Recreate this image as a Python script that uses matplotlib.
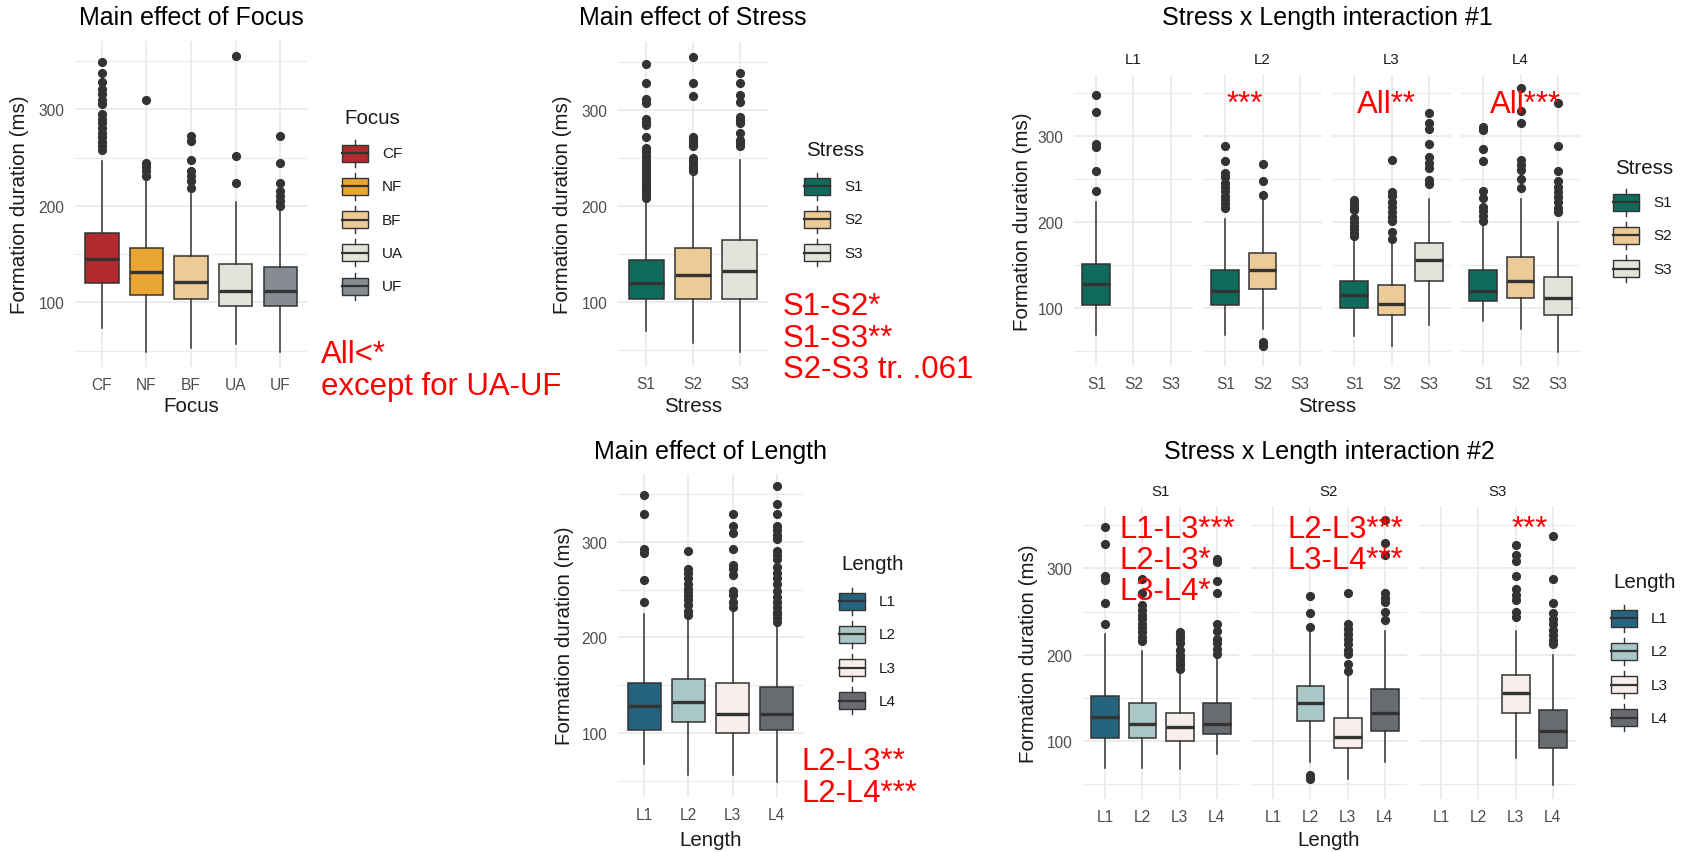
import matplotlib
matplotlib.use("Agg")
import matplotlib.pyplot as plt
from matplotlib.patches import Rectangle

plt.rcParams['font.family'] = ['Liberation Sans', 'DejaVu Sans']

W, H, DPI = 1686, 853, 100
YLIM = (33, 371)
EDGE = '#333333'
GRID = '#EBEBEB'

# ---------------- data ----------------
focus_levels = ['CF', 'NF', 'BF', 'UA', 'UF']
focus_colors = ['#B22A2E', '#E9A632', '#ECCB98', '#E3E3DB', '#878B92']
focus_whislo = [73, 49, 53, 57, 49]
focus_q1 = [120, 108, 104, 96, 96]
focus_med = [145, 132, 121, 112, 112]
focus_q3 = [172, 156, 148, 140, 137]
focus_whishi = [247, 226, 212, 204, 196]
focus_fliers = [
    [258, 262, 266, 271, 276, 281, 286, 290, 295, 306, 310, 316, 321, 328, 338, 349],
    [231, 236, 240, 245, 310],
    [219, 226, 231, 236, 248, 267, 272],
    [224, 252, 355],
    [200, 205, 210, 215, 224, 244, 272],
]

stress_levels = ['S1', 'S2', 'S3']
stress_colors = ['#0F6A5B', '#ECCB98', '#E3E3DB']
stress_whislo = [69, 57, 48]
stress_q1 = [103, 103, 103]
stress_med = [120, 128, 132]
stress_q3 = [144, 156, 164]
stress_whishi = [206, 230, 248]
stress_fliers = [
    [208, 212, 215, 218, 221, 224, 227, 231, 234, 238, 241, 245, 248, 252, 256,
     260, 272, 284, 288, 291, 307, 312, 328, 348],
    [236, 240, 243, 247, 250, 262, 266, 269, 272, 315, 328, 355],
    [262, 266, 269, 276, 286, 290, 293, 308, 316, 328, 339],
]

length_levels = ['L1', 'L2', 'L3', 'L4']
length_colors = ['#26637E', '#AAC7C7', '#F7EDEB', '#686B70']
length_whislo = [68, 56, 56, 49]
length_q1 = [103, 111, 100, 103]
length_med = [128, 132, 120, 120]
length_q3 = [152, 156, 152, 148]
length_whishi = [224, 218, 228, 212]
length_fliers = [
    [237, 260, 288, 293, 329, 349],
    [223, 228, 234, 239, 243, 247, 251, 256, 262, 267, 272, 290],
    [232, 237, 244, 249, 265, 272, 276, 293, 309, 317, 329],
    [216, 220, 224, 227, 232, 237, 242, 249, 256, 262, 267, 274, 282, 286, 290,
     303, 307, 312, 317, 329, 340, 358],
]

# Stress x Length cells (same data in both interaction plots)
cell_stress = ['S1', 'S1', 'S2', 'S1', 'S2', 'S3', 'S1', 'S2', 'S3']
cell_length = ['L1', 'L2', 'L2', 'L3', 'L3', 'L3', 'L4', 'L4', 'L4']
cell_whislo = [69, 69, 76, 68, 56, 81, 85, 76, 49]
cell_q1 = [104, 104, 123, 100, 92, 132, 108, 112, 92]
cell_med = [128, 120, 144, 116, 105, 156, 120, 132, 112]
cell_q3 = [152, 144, 164, 132, 127, 176, 144, 160, 136]
cell_whishi = [224, 204, 226, 180, 176, 227, 197, 227, 200]
cell_fliers = [
    [236, 260, 287, 291, 328, 348],
    [216, 221, 226, 231, 236, 241, 246, 252, 257, 271, 288],
    [56, 61, 232, 248, 268],
    [184, 188, 192, 196, 200, 205, 214, 218, 222, 226],
    [181, 189, 201, 206, 212, 218, 224, 230, 235, 272],
    [244, 249, 263, 269, 276, 291, 308, 315, 327],
    [201, 207, 213, 218, 228, 236, 271, 285, 307, 311],
    [240, 250, 261, 266, 272, 315, 329, 356],
    [212, 217, 223, 229, 235, 241, 248, 260, 288, 338],
]

# ---------------- figure ----------------
fig = plt.figure(figsize=(W / DPI, H / DPI), dpi=DPI)
fig.patch.set_facecolor('white')

# overlay in pixel coordinates for titles, legends and notes
ov = fig.add_axes([0, 0, 1, 1], zorder=10)
ov.set_xlim(0, W)
ov.set_ylim(H, 0)
ov.axis('off')
ov.patch.set_visible(False)


def px_axes(left, top, right, bottom):
    return fig.add_axes([left / W, 1 - bottom / H, (right - left) / W, (bottom - top) / H])


def box_panel(ax, levels, present, whislo, q1, med, q3, whishi, fliers, colors, show_y=True):
    stats = [dict(whislo=a, q1=b, med=c, q3=d, whishi=e, fliers=f)
             for a, b, c, d, e, f in zip(whislo, q1, med, q3, whishi, fliers)]
    pos = [levels.index(p) + 1 for p in present]
    bp = ax.bxp(stats, positions=pos, widths=0.75, patch_artist=True, showcaps=False,
                boxprops=dict(edgecolor=EDGE, linewidth=1.1),
                medianprops=dict(color=EDGE, linewidth=2.4, solid_capstyle='butt'),
                whiskerprops=dict(color=EDGE, linewidth=1.1),
                flierprops=dict(marker='o', markersize=5.6, markerfacecolor=EDGE,
                                markeredgecolor=EDGE))
    for patch, c in zip(bp['boxes'], colors):
        patch.set_facecolor(c)
    ax.set_xlim(0.4, len(levels) + 0.6)
    ax.set_ylim(*YLIM)
    ax.set_xticks(range(1, len(levels) + 1), labels=levels)
    ax.set_yticks([100, 200, 300])
    ax.set_yticks([50, 150, 250, 350], minor=True)
    ax.grid(which='major', color=GRID, lw=1.3)
    ax.grid(which='minor', axis='y', color=GRID, lw=0.8)
    ax.set_axisbelow(True)
    for s in ax.spines.values():
        s.set_visible(False)
    ax.tick_params(which='both', length=0, labelsize=11.2, labelcolor='#4D4D4D', pad=7)
    ax.tick_params(axis='y', labelleft=show_y, pad=7.5)


def subset(key_list, key):
    return [k for k, v in enumerate(key_list) if v == key]


def pick(values, idx):
    return [values[k] for k in idx]


def legend(title, x, y_title, y_first, levels, colors):
    ov.text(x + 2, y_title, title, fontsize=14.8, ha='left', va='center', color='#1A1A1A')
    for i, (lev, col) in enumerate(zip(levels, colors)):
        yc = y_first + i * 33.3
        ov.add_patch(Rectangle((x, yc - 8.5), 26, 17, facecolor=col, edgecolor=EDGE, lw=1.0))
        ov.plot([x, x + 26], [yc, yc], color=EDGE, lw=1.6)
        ov.plot([x + 13, x + 13], [yc - 8.5, yc - 13.5], color=EDGE, lw=1.0)
        ov.plot([x + 13, x + 13], [yc + 8.5, yc + 13.5], color=EDGE, lw=1.0)
        ov.text(x + 40, yc, lev, fontsize=11, ha='left', va='center', color='#1A1A1A')


def labels(title, title_xy, xlabel, xlabel_xy, ylab_x, ylab_y):
    ov.text(title_xy[0], title_xy[1], title, fontsize=18, ha='center', va='center', color='black')
    ov.text(xlabel_xy[0], xlabel_xy[1], xlabel, fontsize=14.8, ha='center', va='center',
            color='#1A1A1A')
    ov.text(ylab_x, ylab_y, 'Formation duration (ms)', fontsize=14.8, rotation=90,
            ha='center', va='center', color='#1A1A1A')


def note(x, y, s):
    ov.text(x, y, s, fontsize=22.4, color='#FF0000', ha='left', va='baseline')


# ---- Main effect of Focus ----
ax1 = px_axes(75, 42, 307, 368)
box_panel(ax1, focus_levels, focus_levels, focus_whislo, focus_q1, focus_med, focus_q3,
          focus_whishi, focus_fliers, focus_colors)
labels('Main effect of Focus', (191, 18), 'Focus', (191, 407), 20, 205)
legend('Focus', 342, 118, 154, focus_levels, focus_colors)
note(321, 363, 'All<*')
note(321, 395, 'except for UA-UF')

# ---- Main effect of Stress ----
ax2 = px_axes(618, 43, 768, 367)
box_panel(ax2, stress_levels, stress_levels, stress_whislo, stress_q1, stress_med, stress_q3,
          stress_whishi, stress_fliers, stress_colors)
labels('Main effect of Stress', (693, 18), 'Stress', (693, 407), 563, 205)
legend('Stress', 804, 150, 187, stress_levels, stress_colors)
note(783, 315, 'S1-S2*')
note(783, 347, 'S1-S3**')
note(783, 378, 'S2-S3 tr. .061')

# ---- Stress x Length interaction #1 (facets by Length) ----
facet_left = [1074, 1203, 1332, 1461]
for i, lev in enumerate(length_levels):
    idx = subset(cell_length, lev)
    ax = px_axes(facet_left[i], 76, facet_left[i] + 119, 367)
    box_panel(ax, stress_levels, pick(cell_stress, idx), pick(cell_whislo, idx),
              pick(cell_q1, idx), pick(cell_med, idx), pick(cell_q3, idx),
              pick(cell_whishi, idx), pick(cell_fliers, idx),
              [stress_colors[stress_levels.index(s)] for s in pick(cell_stress, idx)],
              show_y=(i == 0))
    ov.text(facet_left[i] + 59.5, 60, lev, fontsize=10.8, ha='center', va='center',
            color='#1A1A1A')
labels('Stress x Length interaction #1', (1327, 18), 'Stress', (1327, 407), 1022, 222)
legend('Stress', 1613, 168, 203, stress_levels, stress_colors)
note(1227, 113, '***')
note(1357, 113, 'All**')
note(1490, 113, 'All***')

# ---- Main effect of Length ----
ax4 = px_axes(618, 475, 803, 798)
box_panel(ax4, length_levels, length_levels, length_whislo, length_q1, length_med, length_q3,
          length_whishi, length_fliers, length_colors)
labels('Main effect of Length', (711, 452), 'Length', (711, 841), 565, 636)
legend('Length', 839, 565, 602, length_levels, length_colors)
note(802, 770, 'L2-L3**')
note(802, 802, 'L2-L4***')

# ---- Stress x Length interaction #2 (facets by Stress) ----
facet_left2 = [1083, 1251, 1419]
for i, lev in enumerate(stress_levels):
    idx = subset(cell_stress, lev)
    ax = px_axes(facet_left2[i], 508, facet_left2[i] + 156, 800)
    box_panel(ax, length_levels, pick(cell_length, idx), pick(cell_whislo, idx),
              pick(cell_q1, idx), pick(cell_med, idx), pick(cell_q3, idx),
              pick(cell_whishi, idx), pick(cell_fliers, idx),
              [length_colors[length_levels.index(s)] for s in pick(cell_length, idx)],
              show_y=(i == 0))
    ov.text(facet_left2[i] + 78, 492, lev, fontsize=10.8, ha='center', va='center',
            color='#1A1A1A')
labels('Stress x Length interaction #2', (1329, 452), 'Length', (1329, 841), 1028, 654)
legend('Length', 1611, 583, 619, length_levels, length_colors)
note(1120, 538, 'L1-L3***')
note(1120, 569, 'L2-L3*')
note(1120, 600, 'L3-L4*')
note(1288, 538, 'L2-L3***')
note(1288, 569, 'L3-L4***')
note(1512, 538, '***')

fig.savefig('out.png', dpi=DPI, facecolor='white')
